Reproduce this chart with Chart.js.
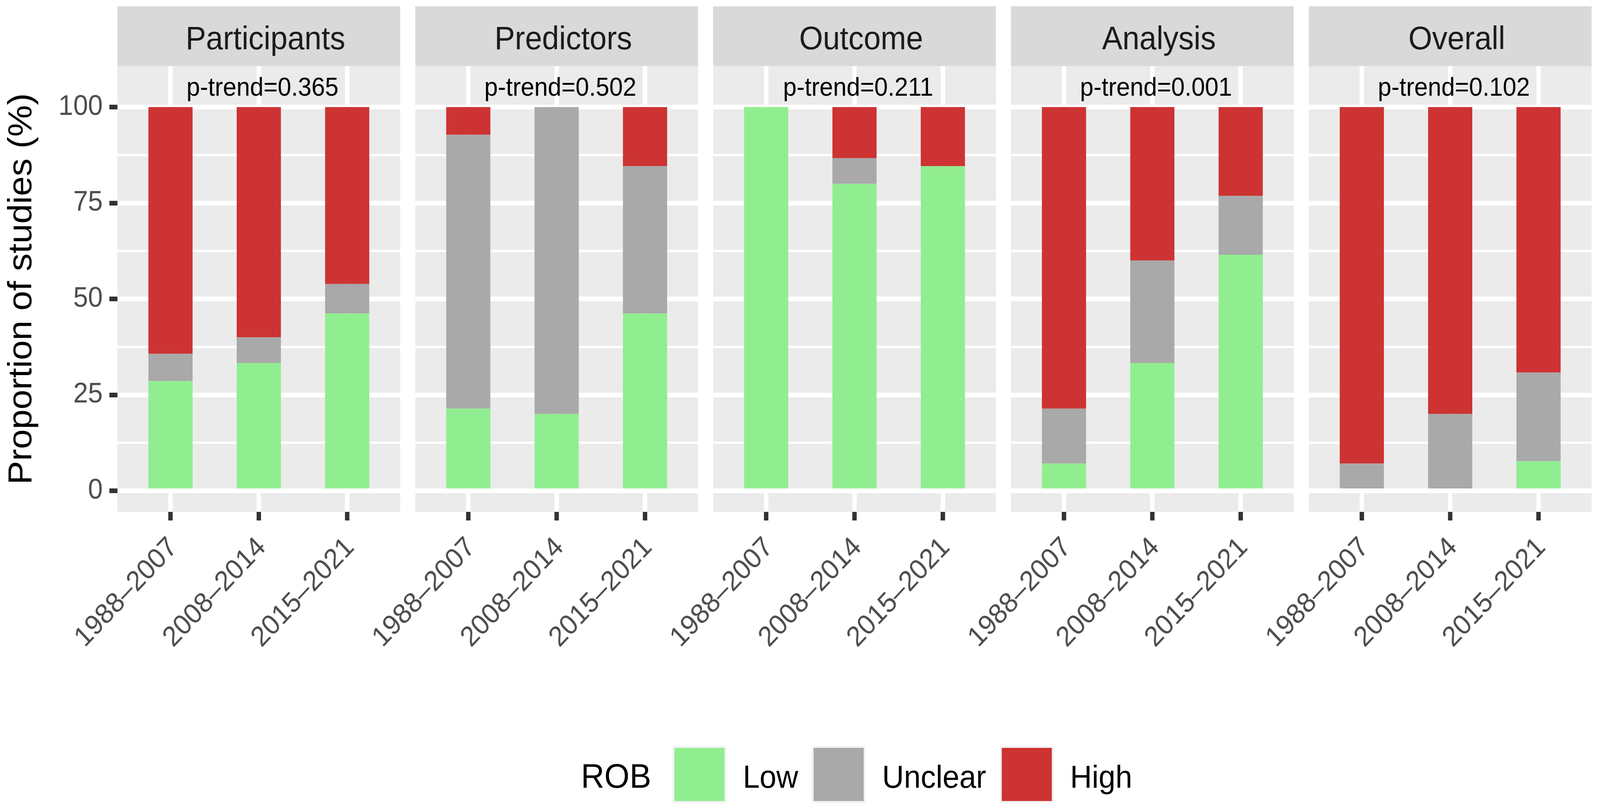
<!DOCTYPE html>
<html>
<head>
<meta charset="utf-8">
<script src="https://cdn.jsdelivr.net/npm/chart.js@4.4.1/dist/chart.umd.min.js"></script>
<style>
  html, body { margin: 0; padding: 0; background: #ffffff; overflow: hidden; }
  #stage { position: absolute; left: 0; top: 0; width: 4346px; height: 2073px; overflow: hidden; background: #ffffff;
           font-family: 'Liberation Sans', Arial, sans-serif; transform-origin: 0 0; }
  #stage canvas { position: absolute; top: 0; }
  #legend { position: absolute; left: 1578px; top: 1909px; height: 146px; display: flex; align-items: center; }
  #legend .lt { font-size: 88px; line-height: 1; color: #000000; margin-right: 58px; position: relative; top: 4px; white-space: nowrap; }
  #legend .key { width: 146px; height: 146px; background: #F2F2F2; display: flex; align-items: center; justify-content: center; flex: none; }
  #legend .key i { display: block; width: 136px; height: 136px; }
  #legend .ll { font-size: 82px; line-height: 1; color: #000000; margin-left: 45px; margin-right: 37px; position: relative; top: 6px; white-space: nowrap; }
</style>
</head>
<body>
<div id="stage"><div id="legend"></div></div>
<script>
// ---------------- data ----------------
const periods = ['1988–2007', '2008–2014', '2015–2021'];
const domains = ['Participants', 'Predictors', 'Outcome', 'Analysis', 'Overall'];
const pTrend = ['0.365', '0.502', '0.211', '0.001', '0.102'];
const robLevels = ['Low', 'Unclear', 'High'];
const legendTitle = 'ROB';
const yAxisTitle = 'Proportion of studies (%)';
const yTickValues = [0, 12.5, 25, 37.5, 50, 62.5, 75, 87.5, 100];

// percentages per domain, in the order of periods
const lowRisk = [
  [28.6, 33.3, 46.2],
  [21.4, 20.0, 46.2],
  [100, 80.0, 84.6],
  [7.1, 33.3, 61.5],
  [0, 0, 7.7]
];
const unclearRisk = [
  [7.1, 6.7, 7.7],
  [71.4, 80.0, 38.4],
  [0, 6.7, 0],
  [14.3, 26.7, 15.4],
  [7.1, 20.0, 23.1]
];
const highRisk = [
  [64.3, 60.0, 46.1],
  [7.2, 0, 15.4],
  [0, 13.3, 15.4],
  [78.6, 40.0, 23.1],
  [92.9, 80.0, 69.2]
];

// ---------------- styles / layout ----------------
const robColors = ['#90EE90', '#A9A9A9', '#CD3333'];
const FONT = 'Liberation Sans';
const W = 4346, H = 2073;
const PANEL_LEFT0 = 319, PANEL_W = 768, PANEL_GAP = 41;
const STRIP_TOP = 16, AREA_TOP = 169, AREA_BOTTOM = 1310;
const Y_MIN = -5.5, Y_MAX = 110.7;
const X_MIN = -0.6, X_MAX = 2.6;
const P_LABEL_BASELINE_VALUE = 103;

Chart.defaults.font.family = FONT;

const stage = document.getElementById('stage');
// fit the fixed-size drawing into whatever viewport the browser really gives
(function fitStage() {
  const vw = window.innerWidth || W, vh = window.innerHeight || H;
  const sx = vw / W, sy = vh / H;
  if (Math.abs(sx - 1) > 0.001 || Math.abs(sy - 1) > 0.001) {
    stage.style.transform = 'scale(' + sx + ',' + sy + ')';
  }
})();

const facetPlugin = {
  id: 'facet',
  beforeDraw(chart, args, opts) {
    const { ctx, chartArea: a } = chart;
    ctx.save();
    ctx.fillStyle = '#EBEBEB';
    ctx.fillRect(a.left, a.top, a.right - a.left, a.bottom - a.top);
    ctx.fillStyle = '#D9D9D9';
    ctx.fillRect(a.left, STRIP_TOP, a.right - a.left, a.top - STRIP_TOP);
    ctx.fillStyle = '#1A1A1A';
    ctx.font = '83px "' + FONT + '"';
    ctx.textAlign = 'center';
    ctx.textBaseline = 'alphabetic';
    ctx.fillText(opts.title, (a.left + a.right) / 2 + 18, 126);
    ctx.restore();
  },
  afterDatasetsDraw(chart, args, opts) {
    const { ctx } = chart;
    const xs = chart.scales.x, ys = chart.scales.y;
    ctx.save();
    ctx.fillStyle = '#000000';
    ctx.font = '66px "' + FONT + '"';
    ctx.textAlign = 'center';
    ctx.textBaseline = 'alphabetic';
    ctx.fillText('p-trend=' + opts.p, xs.getPixelForValue(1) + 10, ys.getPixelForValue(P_LABEL_BASELINE_VALUE));
    ctx.restore();
  }
};

function toPoints(arr) { return arr.map((v, k) => ({ x: k, y: v })); }
function isMajor(ctx) { return ctx.tick && Math.abs(ctx.tick.value % 25) < 1e-9; }

function makeChart(i) {
  const isFirst = i === 0;
  const leftSpace = isFirst ? PANEL_LEFT0 : 360;
  const padRight = 60;
  const panelLeft = PANEL_LEFT0 + i * (PANEL_W + PANEL_GAP);
  const width = leftSpace + PANEL_W + padRight;
  const cv = document.createElement('canvas');
  cv.width = width; cv.height = H;
  cv.style.left = (panelLeft - leftSpace) + 'px';
  cv.style.width = width + 'px'; cv.style.height = H + 'px';
  stage.appendChild(cv);

  const series = [lowRisk[i], unclearRisk[i], highRisk[i]];
  new Chart(cv, {
    type: 'bar',
    data: {
      datasets: series.map((s, k) => ({
        label: robLevels[k],
        data: toPoints(s),
        backgroundColor: robColors[k],
        borderWidth: 0
      }))
    },
    options: {
      responsive: false,
      animation: false,
      devicePixelRatio: 1,
      layout: { padding: { left: isFirst ? 0 : leftSpace, right: padRight, top: AREA_TOP, bottom: 0 } },
      datasets: { bar: { barPercentage: 0.5, categoryPercentage: 1 } },
      plugins: {
        legend: { display: false },
        tooltip: { enabled: false },
        facet: { title: domains[i], p: pTrend[i] }
      },
      scales: {
        x: {
          type: 'linear', min: X_MIN, max: X_MAX, offset: false, stacked: true,
          afterBuildTicks: s => { s.ticks = periods.map((_, k) => ({ value: k })); },
          afterFit: s => { s.height = H - AREA_BOTTOM; },
          grid: { offset: false, color: '#FFFFFF', lineWidth: 12, tickColor: '#333333', tickWidth: 12, tickLength: 22, drawTicks: true },
          border: { display: false },
          ticks: {
            autoSkip: false, minRotation: 45, maxRotation: 45, padding: 27, labelOffset: 8,
            color: '#4D4D4D', font: { family: FONT, size: 72 },
            callback: v => periods[v]
          }
        },
        y: {
          type: 'linear', min: Y_MIN, max: Y_MAX, stacked: true,
          afterBuildTicks: s => { s.ticks = yTickValues.map(v => ({ value: v })); },
          afterFit: s => { s.width = isFirst ? PANEL_LEFT0 : 0; },
          grid: {
            color: '#FFFFFF',
            lineWidth: c => isMajor(c) ? 12 : 6,
            tickColor: c => isMajor(c) ? '#333333' : 'rgba(0,0,0,0)',
            tickWidth: 12, tickLength: 22, drawTicks: isFirst
          },
          border: { display: false },
          ticks: {
            display: isFirst, padding: 18, color: '#4D4D4D', font: { family: FONT, size: 72 },
            callback: v => (Math.abs(v % 25) < 1e-9 ? String(v) : '')
          },
          title: {
            display: isFirst, text: yAxisTitle, color: '#000000',
            font: { family: FONT, size: 91, lineHeight: 1 }, padding: { top: 14, bottom: 0 }
          }
        }
      }
    },
    plugins: [facetPlugin]
  });
}

domains.forEach((_, i) => makeChart(i));

// legend
const legend = document.getElementById('legend');
const lt = document.createElement('span'); lt.className = 'lt'; lt.textContent = legendTitle; legend.appendChild(lt);
robLevels.forEach((lvl, k) => {
  const key = document.createElement('span'); key.className = 'key';
  const sw = document.createElement('i'); sw.style.background = robColors[k]; key.appendChild(sw);
  legend.appendChild(key);
  const lab = document.createElement('span'); lab.className = 'll'; lab.textContent = lvl; legend.appendChild(lab);
});
</script>
</body>
</html>
